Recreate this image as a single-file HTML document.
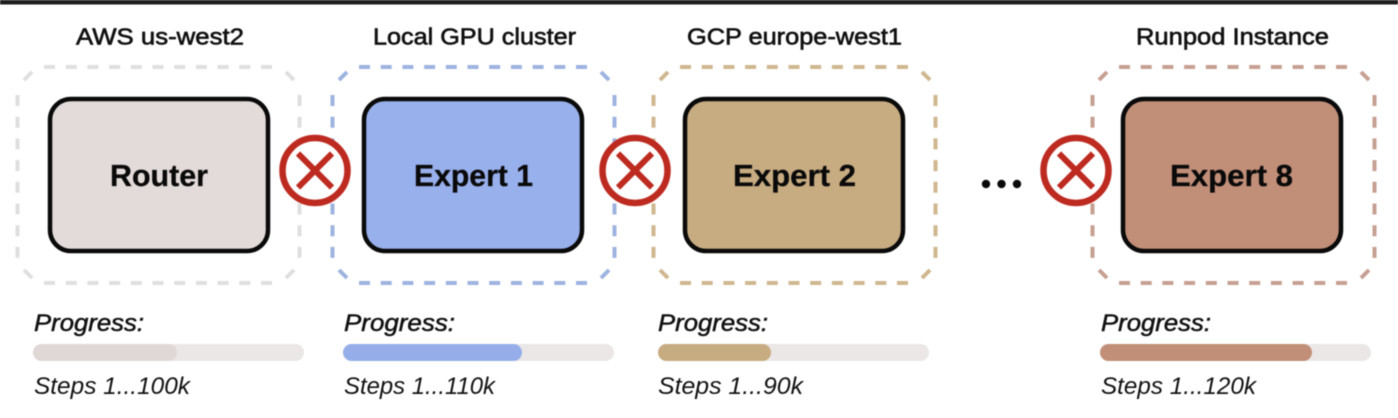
<!DOCTYPE html>
<html><head><meta charset="utf-8"><style>
html,body{margin:0;padding:0;background:#fff}
svg{display:block;filter:blur(.4px)}
text{font-family:"Liberation Sans",sans-serif;fill:#111}
.h{font-size:23.500px;font-weight:400;stroke:#111;stroke-width:.65px}
.n{font-size:31px;font-weight:700;fill:#0a0a0a;stroke:#0a0a0a;stroke-width:.3px}
.p{font-size:24px;font-style:italic;stroke:#111;stroke-width:.5px}
.s{font-size:24px;font-style:italic}
</style></head><body>
<svg width="1398" height="418" viewBox="0 0 1398 418" xmlns="http://www.w3.org/2000/svg">
<rect width="1398" height="418" fill="#fff"/>
<rect width="1398" height="4.500" fill="#1e1e1e"/>
<defs>
<g id="dash" fill="none" stroke-width="4">
<path d="M44 67H274" stroke-dasharray="11 10.7"/>
<path d="M44 283H274" stroke-dasharray="11 10.7"/>
<path d="M17.500 95V258" stroke-dasharray="11 10.7"/>
<path d="M299.500 95V258" stroke-dasharray="11 10.7"/>
<path d="M24 80L32 72M24 270L32 278M286 72L294 80M286 278L294 270"/>
</g>
<g id="x">
<circle cx="0" cy="0" r="32.500" fill="#fff" stroke="#bd2a20" stroke-width="6.500"/>
<path d="M-17 -17L17 17M17 -17L-17 17" stroke="#bd2a20" stroke-width="6" fill="none"/>
</g>
</defs>

<text class="h" x="76" y="44.500" textLength="168" lengthAdjust="spacingAndGlyphs">AWS us-west2</text>
<text class="h" x="373" y="44.500" textLength="203" lengthAdjust="spacingAndGlyphs">Local GPU cluster</text>
<text class="h" x="687" y="44.500" textLength="215" lengthAdjust="spacingAndGlyphs">GCP europe-west1</text>
<text class="h" x="1136" y="44.500" textLength="193" lengthAdjust="spacingAndGlyphs">Runpod Instance</text>

<use href="#dash" stroke="#dfdfdf"/>
<use href="#dash" x="315" stroke="#9eb3e0"/>
<use href="#dash" x="636" stroke="#cfb78f"/>
<use href="#dash" x="1075" stroke="#c6a092"/>

<rect x="50" y="99" width="218" height="152" rx="21" fill="#e3dbd9" stroke="#0a0a0a" stroke-width="4.500"/>
<rect x="364" y="99" width="218" height="152" rx="21" fill="#98b0ec" stroke="#0a0a0a" stroke-width="4.500"/>
<rect x="685" y="99" width="218" height="152" rx="21" fill="#c7ab81" stroke="#0a0a0a" stroke-width="4.500"/>
<rect x="1123" y="99" width="218" height="152" rx="21" fill="#c18e78" stroke="#0a0a0a" stroke-width="4.500"/>

<text class="n" x="110" y="186" textLength="98" lengthAdjust="spacingAndGlyphs">Router</text>
<text class="n" x="414" y="186" textLength="119" lengthAdjust="spacingAndGlyphs">Expert 1</text>
<text class="n" x="733" y="186" textLength="123" lengthAdjust="spacingAndGlyphs">Expert 2</text>
<text class="n" x="1170" y="186" textLength="123" lengthAdjust="spacingAndGlyphs">Expert 8</text>

<use href="#x" x="315" y="170.500"/>
<use href="#x" x="635" y="170.500"/>
<use href="#x" x="1076" y="170.500"/>

<circle cx="986" cy="184" r="4.200" fill="#0a0a0a"/>
<circle cx="1001.500" cy="184" r="4.200" fill="#0a0a0a"/>
<circle cx="1017" cy="184" r="4.200" fill="#0a0a0a"/>

<text class="p" x="34" y="331" textLength="110" lengthAdjust="spacingAndGlyphs">Progress:</text>
<text class="p" x="344" y="331" textLength="111" lengthAdjust="spacingAndGlyphs">Progress:</text>
<text class="p" x="658" y="331" textLength="110" lengthAdjust="spacingAndGlyphs">Progress:</text>
<text class="p" x="1101" y="331" textLength="110" lengthAdjust="spacingAndGlyphs">Progress:</text>

<rect x="33" y="344" width="271" height="17" rx="8.500" fill="#eae7e6"/>
<rect x="33" y="344" width="144" height="17" rx="8.500" fill="#e0d8d6"/>
<rect x="343" y="344" width="271" height="17" rx="8.500" fill="#eae7e6"/>
<rect x="343" y="344" width="179" height="17" rx="8.500" fill="#95aeea"/>
<rect x="658" y="344" width="271" height="17" rx="8.500" fill="#eae7e6"/>
<rect x="658" y="344" width="113" height="17" rx="8.500" fill="#c7ab81"/>
<rect x="1100" y="344" width="271" height="17" rx="8.500" fill="#eae7e6"/>
<rect x="1100" y="344" width="212" height="17" rx="8.500" fill="#c18e78"/>

<text class="s" x="34" y="394" textLength="156" lengthAdjust="spacingAndGlyphs">Steps 1...100k</text>
<text class="s" x="344" y="394" textLength="151" lengthAdjust="spacingAndGlyphs">Steps 1...110k</text>
<text class="s" x="658" y="394" textLength="145" lengthAdjust="spacingAndGlyphs">Steps 1...90k</text>
<text class="s" x="1101" y="394" textLength="155" lengthAdjust="spacingAndGlyphs">Steps 1...120k</text>
</svg>
</body></html>
